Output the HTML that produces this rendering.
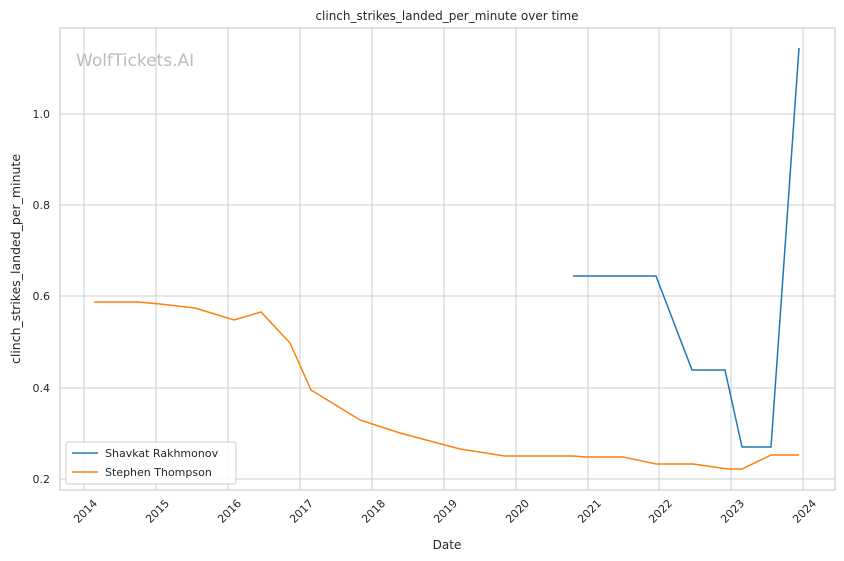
<!DOCTYPE html>
<html><head><style>body{margin:0;background:#fff}svg{display:block}text{font-family:"DejaVu Sans","Liberation Sans",sans-serif;fill:#262626}</style></head>
<body>
<svg width="844" height="561" viewBox="0 0 844 561" xmlns="http://www.w3.org/2000/svg">
<rect width="844" height="561" fill="#fff"/>
<g stroke="#cccccc" stroke-width="1">
<line x1="84" y1="28" x2="84" y2="490"/><line x1="156" y1="28" x2="156" y2="490"/><line x1="228" y1="28" x2="228" y2="490"/><line x1="300" y1="28" x2="300" y2="490"/><line x1="372" y1="28" x2="372" y2="490"/><line x1="444" y1="28" x2="444" y2="490"/><line x1="516" y1="28" x2="516" y2="490"/><line x1="588" y1="28" x2="588" y2="490"/><line x1="659" y1="28" x2="659" y2="490"/><line x1="731" y1="28" x2="731" y2="490"/><line x1="803" y1="28" x2="803" y2="490"/>
<line x1="60" y1="479" x2="835" y2="479"/><line x1="60" y1="388" x2="835" y2="388"/><line x1="60" y1="296" x2="835" y2="296"/><line x1="60" y1="205" x2="835" y2="205"/><line x1="60" y1="114" x2="835" y2="114"/>
</g>
<rect x="60" y="28" width="775" height="462" fill="none" stroke="#cccccc" stroke-width="1.2"/>
<text x="76" y="66" font-size="17" style="fill:#bbbbbb">WolfTickets.AI</text>
<text x="447" y="20" font-size="12" text-anchor="middle">clinch_strikes_landed_per_minute over time</text>
<g font-size="11" text-anchor="end">
<text x="50" y="483">0.2</text><text x="50" y="392">0.4</text><text x="50" y="300">0.6</text><text x="50" y="209">0.8</text><text x="50" y="118">1.0</text>
</g>
<g font-size="11" text-anchor="end">
<text transform="translate(98,504) rotate(-45)">2014</text><text transform="translate(170,504) rotate(-45)">2015</text><text transform="translate(242,504) rotate(-45)">2016</text><text transform="translate(314,504) rotate(-45)">2017</text><text transform="translate(386,504) rotate(-45)">2018</text><text transform="translate(458,504) rotate(-45)">2019</text><text transform="translate(530,504) rotate(-45)">2020</text><text transform="translate(602,504) rotate(-45)">2021</text><text transform="translate(673,504) rotate(-45)">2022</text><text transform="translate(745,504) rotate(-45)">2023</text><text transform="translate(817,504) rotate(-45)">2024</text>
</g>
<text x="447" y="549" font-size="12" text-anchor="middle">Date</text>
<text transform="translate(20,259) rotate(-90)" font-size="12.5" text-anchor="middle">clinch_strikes_landed_per_minute</text>
<polyline fill="none" stroke="#1f77b4" stroke-width="1.5" points="573,276 656,276 692,370 725,370 742,447 771,447 799,48"/>
<polyline fill="none" stroke="#ff7f0e" stroke-width="1.5" points="94,302 138,302 160,304 195,308 234,320 261,312 290,343 311,390 360,420 400,433 460,449 505,456 573,456 587,457 623,457 656,464 693,464 728,469 742,469 771,455 799,455"/>
<rect x="66" y="442" width="170" height="42" fill="#fff" fill-opacity="0.85" stroke="#cccccc" rx="2"/>
<line x1="72" y1="453" x2="98" y2="453" stroke="#1f77b4" stroke-width="1.5"/>
<text x="105" y="457" font-size="11">Shavkat Rakhmonov</text>
<line x1="72" y1="472" x2="98" y2="472" stroke="#ff7f0e" stroke-width="1.5"/>
<text x="105" y="476" font-size="11">Stephen Thompson</text>
</svg>
</body></html>
